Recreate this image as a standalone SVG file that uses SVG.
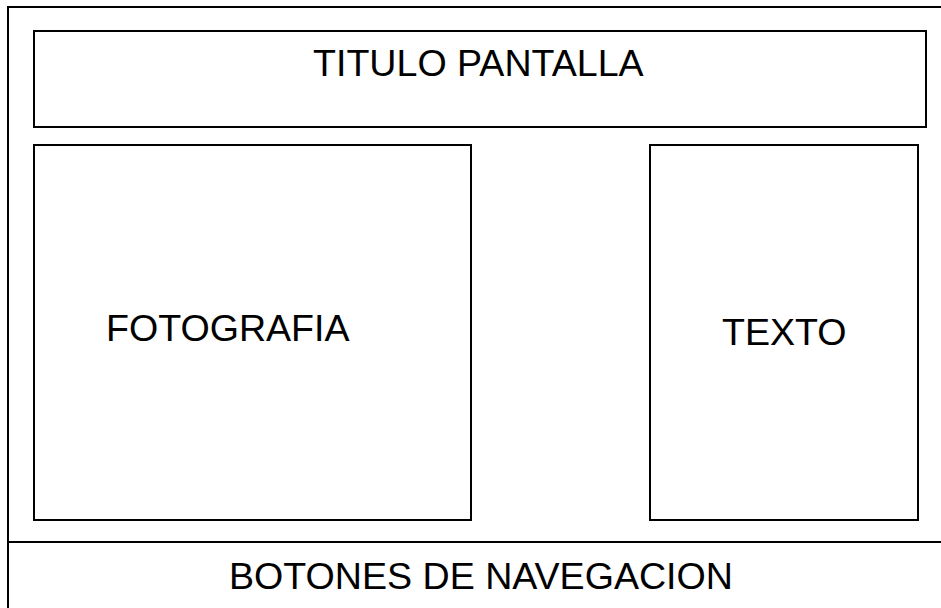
<svg xmlns="http://www.w3.org/2000/svg" width="941" height="608" viewBox="0 0 941 608">
<style>
.box{fill:#fff;stroke:#000;stroke-width:2}
.ln{fill:none;stroke:#000;stroke-width:2}
.t{font-family:"Liberation Sans",Arial,sans-serif;font-size:37.6px;fill:#000}
</style>
<rect x="0" y="0" width="941" height="608" fill="#fff"/>
<g id="outer"><rect class="box" x="8" y="7" width="940" height="610"/></g>
<g id="titulo"><rect class="box" x="34" y="31" width="892" height="96"/><text class="t" x="313" y="76">TITULO PANTALLA</text></g>
<g id="fotografia"><rect class="box" x="34" y="145" width="437" height="375"/><text class="t" x="106" y="341">FOTOGRAFIA</text></g>
<g id="texto"><rect class="box" x="650" y="145" width="268" height="375"/><text class="t" x="722" y="345">TEXTO</text></g>
<g id="botones"><line class="ln" x1="8" y1="542" x2="941" y2="542"/><text class="t" x="229" y="589">BOTONES DE NAVEGACION</text></g>
<g id="connectors"></g>
</svg>
